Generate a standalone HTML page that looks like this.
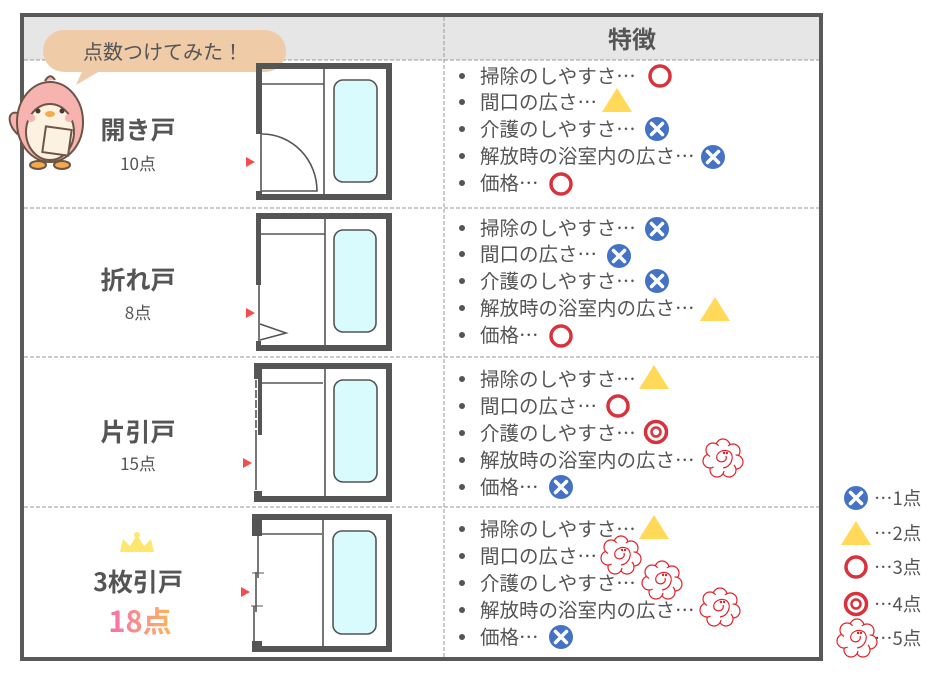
<!DOCTYPE html>
<html><head><meta charset="utf-8"><style>
html,body{margin:0;padding:0;background:#fff}
svg{display:block}
text{font-family:"Noto Sans CJK JP","Liberation Sans",sans-serif;fill:#555}
</style></head><body>
<svg width="946" height="675" viewBox="0 0 946 675" xmlns="http://www.w3.org/2000/svg">
<defs>
<linearGradient id="g18" x1="0" x2="1"><stop offset="0" stop-color="#f56fb0"/><stop offset="1" stop-color="#ffb35a"/></linearGradient>
<g id="xx"><circle r="12" fill="#4472c4"/><path d="M-5.5,-5.5L5.5,5.5M5.5,-5.5L-5.5,5.5" stroke="#fff" stroke-width="3.5" stroke-linecap="round"/></g>
<g id="tri"><path d="M0,-13L15,11L-15,11Z" fill="#ffd957"/></g>
<g id="ci"><circle r="10" fill="none" stroke="#d9323c" stroke-width="3.5"/></g>
<g id="dc"><circle r="10.5" fill="none" stroke="#d9323c" stroke-width="3.5"/><circle r="4.5" fill="none" stroke="#d9323c" stroke-width="2.5"/></g>
<g id="fl" fill="#fff" stroke="#e2222a" stroke-width="1.2">
<circle cx="0" cy="-12" r="7"/><circle cx="10" cy="-7" r="7"/><circle cx="13" cy="4" r="7"/><circle cx="6" cy="12" r="7"/><circle cx="-6" cy="12" r="7"/><circle cx="-13" cy="3" r="7"/><circle cx="-10" cy="-8" r="7"/>
<circle r="13" stroke="none"/>
<path d="M3,-2 C5,4 -4,6 -6,1 C-8,-6 2,-10 7,-6 C12,-1 8,9 0,10" fill="none"/>
<circle cx="1" cy="-5" r="0.6" fill="#e2222a"/><circle cx="4" cy="-5" r="0.6" fill="#e2222a"/>
</g>
</defs>

<rect x="22" y="15" width="799" height="644" fill="#fff" stroke="#595959" stroke-width="4"/>
<rect x="24" y="17" width="795" height="43" fill="#e6e6e6"/>
<g stroke="#999" stroke-width="1" stroke-dasharray="4,2">
<line x1="24" y1="60" x2="819" y2="60"/>
<line x1="24" y1="208" x2="819" y2="208"/>
<line x1="24" y1="357" x2="819" y2="357"/>
<line x1="24" y1="507" x2="819" y2="507"/>
<line x1="444" y1="17" x2="444" y2="657"/>
</g>
<text x="632" y="48" font-size="24" font-weight="bold" text-anchor="middle">特徴</text>

<rect x="43" y="30" width="243" height="42" rx="21" fill="#f0cba7"/>
<path d="M85,65 L76,85 L105,68Z" fill="#f0cba7"/>
<text x="163" y="59" font-size="20" text-anchor="middle">点数つけてみた！</text>

<g stroke="#6b5646" stroke-width="2">
<ellipse cx="20" cy="125" rx="8" ry="14" fill="#f7b3b0" transform="rotate(-35 20 125)"/>
<ellipse cx="50" cy="122" rx="33" ry="40" fill="#f7b3b0"/>
<ellipse cx="50" cy="132" rx="24" ry="28" fill="#fdf1e2"/>
<path d="M45,81 Q50,72 55,80" fill="#f7b3b0"/>
<rect x="44" y="128" width="26" height="26" fill="#fdf1e2" transform="rotate(8 57 141)"/>
<ellipse cx="38" cy="165" rx="8" ry="4" fill="#f5a94a"/><ellipse cx="62" cy="165" rx="8" ry="4" fill="#f5a94a"/>
</g>
<circle cx="38" cy="111" r="2.5" fill="#4a3b32"/><circle cx="62" cy="111" r="2.5" fill="#4a3b32"/>
<ellipse cx="50" cy="114" rx="5" ry="3" fill="#f5a94a"/>
<circle cx="31" cy="118" r="4" fill="#f7b3b0"/><circle cx="69" cy="118" r="4" fill="#f7b3b0"/>

<text x="138" y="139" font-size="25" font-weight="bold" text-anchor="middle">開き戸</text>
<text x="138" y="170" font-size="17" text-anchor="middle">10点</text>
<text x="138" y="289" font-size="25" font-weight="bold" text-anchor="middle">折れ戸</text>
<text x="138" y="319" font-size="17" text-anchor="middle">8点</text>
<text x="138" y="441" font-size="25" font-weight="bold" text-anchor="middle">片引戸</text>
<text x="138" y="470" font-size="17" text-anchor="middle">15点</text>
<path d="M120,552 L123,539 L130,546 L137,535 L144,546 L151,539 L154,552Z" fill="#ffe66e"/>
<circle cx="137" cy="535" r="3" fill="#ffe66e"/>
<text x="138" y="591" font-size="25" font-weight="bold" text-anchor="middle">3枚引戸</text>
<text x="140" y="632" font-size="29" font-weight="bold" text-anchor="middle" style="fill:url(#g18)">18点</text>

<g fill="#555">
<rect x="256" y="63" width="136" height="6"/><rect x="386" y="63" width="6" height="137"/><rect x="256" y="194" width="136" height="6"/>
<rect x="256" y="63" width="6" height="71"/><rect x="256" y="191" width="6" height="9"/>
<rect x="256" y="213" width="136" height="6"/><rect x="386" y="213" width="6" height="138"/><rect x="256" y="345" width="136" height="6"/>
<rect x="256" y="213" width="5" height="72"/><rect x="256" y="341" width="5" height="10"/>
<rect x="254" y="363" width="138" height="6"/><rect x="386" y="363" width="6" height="139"/><rect x="254" y="496" width="138" height="6"/>
<rect x="258" y="363" width="4" height="72"/><rect x="254" y="363" width="8" height="16"/><rect x="254" y="491" width="8" height="11"/>
<rect x="252" y="514" width="140" height="6"/><rect x="386" y="514" width="6" height="138"/><rect x="252" y="646" width="140" height="6"/>
<rect x="252" y="514" width="10" height="22"/><rect x="252" y="641" width="10" height="11"/>
</g>
<g fill="#f44d4d">
<path d="M246,157L255,162L246,167Z"/><path d="M246,308L255,313L246,318Z"/><path d="M243,458L252,463L243,468Z"/><path d="M241,587L250,592L241,597Z"/>
</g>
<g stroke="#555" stroke-width="1.6" fill="none">
<line x1="324" y1="69" x2="324" y2="194"/><line x1="262" y1="84" x2="324" y2="84"/>
<line x1="261" y1="134" x2="261" y2="191"/><path d="M262,134 A55,57 0 0 1 317,191 L262,191"/>
<line x1="325" y1="219" x2="325" y2="345"/><line x1="261" y1="234" x2="325" y2="234"/>
<line x1="259" y1="285" x2="259" y2="342"/><path d="M260,324 L286,333 L260,340"/>
<line x1="325" y1="369" x2="325" y2="496"/><line x1="262" y1="383" x2="323" y2="383"/>
<line x1="256" y1="380" x2="256" y2="435" stroke-dasharray="8,2"/><line x1="256" y1="435" x2="256" y2="490"/>
<line x1="323" y1="520" x2="323" y2="646"/><line x1="262" y1="534" x2="322" y2="534"/>
<line x1="258" y1="536" x2="258" y2="578"/><line x1="256" y1="572" x2="256" y2="612"/><line x1="254" y1="606" x2="254" y2="641"/>
<line x1="252" y1="573" x2="264" y2="573" stroke-width="1"/><line x1="251" y1="606" x2="263" y2="606" stroke-width="1"/>
</g>
<g fill="#d9fbfd" stroke="#555" stroke-width="1.6">
<rect x="334" y="80" width="43" height="102" rx="9"/>
<rect x="334" y="230" width="42" height="102" rx="9"/>
<rect x="334" y="380" width="43" height="102" rx="9"/>
<rect x="333" y="531" width="43" height="103" rx="9"/>
</g>

<g font-size="19.5">
<g fill="#555">
<circle cx="462" cy="76" r="3"/><circle cx="462" cy="102" r="3"/><circle cx="462" cy="129" r="3"/><circle cx="462" cy="156" r="3"/><circle cx="462" cy="183" r="3"/>
<circle cx="462" cy="228" r="3"/><circle cx="462" cy="254" r="3"/><circle cx="462" cy="281" r="3"/><circle cx="462" cy="308" r="3"/><circle cx="462" cy="335" r="3"/>
<circle cx="462" cy="379" r="3"/><circle cx="462" cy="406" r="3"/><circle cx="462" cy="433" r="3"/><circle cx="462" cy="460" r="3"/><circle cx="462" cy="487" r="3"/>
<circle cx="462" cy="529" r="3"/><circle cx="462" cy="556" r="3"/><circle cx="462" cy="583" r="3"/><circle cx="462" cy="610" r="3"/><circle cx="462" cy="637" r="3"/>
</g>
<text x="480" y="83">掃除のしやすさ…</text><text x="480" y="109">間口の広さ…</text><text x="480" y="136">介護のしやすさ…</text><text x="480" y="163">解放時の浴室内の広さ…</text><text x="480" y="190">価格…</text>
<text x="480" y="235">掃除のしやすさ…</text><text x="480" y="261">間口の広さ…</text><text x="480" y="288">介護のしやすさ…</text><text x="480" y="315">解放時の浴室内の広さ…</text><text x="480" y="342">価格…</text>
<text x="480" y="386">掃除のしやすさ…</text><text x="480" y="413">間口の広さ…</text><text x="480" y="440">介護のしやすさ…</text><text x="480" y="467">解放時の浴室内の広さ…</text><text x="480" y="494">価格…</text>
<text x="480" y="536">掃除のしやすさ…</text><text x="480" y="563">間口の広さ…</text><text x="480" y="590">介護のしやすさ…</text><text x="480" y="617">解放時の浴室内の広さ…</text><text x="480" y="644">価格…</text>
</g>
<use href="#ci" x="660" y="76"/><use href="#tri" x="617" y="101"/><use href="#xx" x="657" y="129"/><use href="#xx" x="713" y="157"/><use href="#ci" x="561" y="184"/>
<use href="#xx" x="657" y="229"/><use href="#xx" x="619" y="256"/><use href="#xx" x="657" y="281"/><use href="#tri" x="715" y="310"/><use href="#ci" x="561" y="336"/>
<use href="#tri" x="654" y="378"/><use href="#ci" x="618" y="406"/><use href="#dc" x="656" y="432"/><use href="#fl" x="723" y="458"/><use href="#xx" x="561" y="487"/>
<use href="#tri" x="654" y="528"/><use href="#fl" x="621" y="555"/><use href="#fl" x="662" y="580"/><use href="#fl" x="720" y="607"/><use href="#xx" x="561" y="637"/>

<use href="#xx" x="856" y="498"/><use href="#tri" x="856" y="534"/><use href="#ci" x="856" y="567"/><use href="#dc" x="856" y="604"/><use href="#fl" x="857" y="638"/>
<g font-size="18.5">
<text x="874" y="505">…1点</text><text x="874" y="540">…2点</text><text x="874" y="574">…3点</text><text x="874" y="611">…4点</text><text x="874" y="645">…5点</text>
</g>
</svg>
</body></html>
